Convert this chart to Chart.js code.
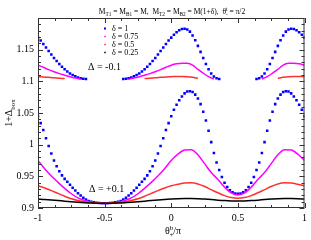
<!DOCTYPE html>
<html><head><meta charset="utf-8">
<script src="https://cdn.jsdelivr.net/npm/chart.js@4.4.1/dist/chart.umd.min.js"></script>
<style>html,body{margin:0;padding:0;background:#fff}canvas{display:block}</style>
</head><body>
<canvas id="c" width="311" height="240"></canvas>
<script>
// x grids
const xFine = [-1,-0.98,-0.96,-0.94,-0.92,-0.9,-0.88,-0.86,-0.84,-0.82,-0.8,-0.78,-0.76,-0.74,-0.72,-0.7,-0.68,-0.66,-0.64,-0.62,-0.6,-0.58,-0.56,-0.54,-0.52,-0.5,-0.48,-0.46,-0.44,-0.42,-0.4,-0.38,-0.36,-0.34,-0.32,-0.3,-0.28,-0.26,-0.24,-0.22,-0.2,-0.18,-0.16,-0.14,-0.12,-0.1,-0.08,-0.06,-0.04,-0.02,0,0.02,0.04,0.06,0.08,0.1,0.12,0.14,0.16,0.18,0.2,0.22,0.24,0.26,0.28,0.3,0.32,0.34,0.36,0.38,0.4,0.42,0.44,0.46,0.48,0.5,0.52,0.54,0.56,0.58,0.6,0.62,0.64,0.66,0.68,0.7,0.72,0.74,0.76,0.78,0.8,0.82,0.84,0.86,0.88,0.9,0.92,0.94,0.96,0.98,1];
const xMid = [-1,-0.96,-0.92,-0.88,-0.84,-0.8,-0.76,-0.72,-0.68,-0.64,-0.6,-0.56,-0.52,-0.48,-0.44,-0.4,-0.36,-0.32,-0.28,-0.24,-0.2,-0.16,-0.12,-0.08,-0.04,0,0.04,0.08,0.12,0.16,0.2,0.24,0.28,0.32,0.36,0.4,0.44,0.48,0.52,0.56,0.6,0.64,0.68,0.72,0.76,0.8,0.84,0.88,0.92,0.96,1];
const xCoarse = [-1,-0.95,-0.9,-0.85,-0.8,-0.75,-0.7,-0.65,-0.6,-0.55,-0.5,-0.45,-0.4,-0.35,-0.3,-0.25,-0.2,-0.15,-0.1,-0.05,0,0.05,0.1,0.15,0.2,0.25,0.3,0.35,0.4,0.45,0.5,0.55,0.6,0.65,0.7,0.75,0.8,0.85,0.9,0.95,1];

// Delta = +0.1 (lower family)
const blueLow = [1.045,1.034,1.023,1.010,0.998,0.986,0.975,0.966,0.958,0.9515,0.9460,0.9413,0.9367,0.9320,0.9275,0.9233,0.9196,0.9162,0.9133,0.9112,0.9098,0.9089,0.9082,0.9078,0.9076,0.9075,
 0.9076,0.9078,0.9082,0.9089,0.9098,0.9112,0.9133,0.9162,0.9196,0.9233,0.9275,0.9320,0.9367,0.9413,0.9460,0.9515,0.958,0.966,0.975,0.986,0.998,1.010,1.023,1.034,1.045,1.055,1.063,1.070,1.076,1.081,1.084,1.0845,1.083,1.079,1.073,1.064,1.052,1.038,1.022,1.004,0.987,0.972,0.960,0.949,0.940,0.933,0.928,0.925,0.923,0.9225,
 0.923,0.925,0.928,0.933,0.940,0.949,0.960,0.972,0.987,1.004,1.022,1.038,1.052,1.064,1.073,1.079,1.083,1.0845,1.084,1.081,1.076,1.070,1.063,1.055,1.045];
const magentaLow = [0.975,0.962,0.9505,0.9405,0.931,0.9225,0.916,0.9118,0.9092,0.9079,0.9075,
 0.9079,0.9092,0.9118,0.916,0.9225,0.931,0.9405,0.9505,0.962,0.975,0.985,0.9915,0.992,0.984,0.970,0.956,0.945,0.933,0.924,0.9205,
 0.924,0.933,0.945,0.956,0.970,0.984,0.992,0.9915,0.985,0.975];
const redLow = [0.935,0.9315,0.9275,0.923,0.9185,0.9145,0.912,0.910,0.9085,0.9077,0.9075,
 0.9077,0.9085,0.910,0.912,0.9145,0.9185,0.923,0.9275,0.9315,0.935,0.9375,0.9395,0.9398,0.938,0.934,0.929,0.924,0.9195,0.9165,0.9155,
 0.9165,0.9195,0.924,0.929,0.934,0.938,0.9398,0.9395,0.9375,0.935];
const blackLow = [0.9141,0.9135,0.9127,0.9118,0.9108,0.9099,0.9091,0.9084,0.9079,0.9076,0.9075,
 0.9076,0.9079,0.9084,0.9091,0.9099,0.9108,0.9118,0.9127,0.9135,0.9141,0.9146,0.9149,0.915,0.9148,0.9141,0.9133,0.9124,0.9117,0.9112,0.911,
 0.9112,0.9117,0.9124,0.9133,0.9141,0.9148,0.915,0.9149,0.9146,0.9141];

// Delta = -0.1 (upper family)
const blueUp = [1.169,1.1645,1.159,1.1535,1.148,1.1425,1.137,1.132,1.1275,1.123,1.119,1.1155,1.1125,1.110,1.1078,1.106,1.1048,1.1040,1.1037,
 null,null,null,null,null,null,null,null,null,null,null,null,null,
 1.1037,1.1040,1.1048,1.106,1.1078,1.110,1.1125,1.1155,1.119,1.123,1.1275,1.132,1.137,1.1425,1.148,1.1535,1.159,1.1645,1.169,1.1735,1.1775,1.1805,1.1825,1.183,1.182,1.1785,1.1725,1.165,1.156,1.1465,1.137,1.1275,1.119,1.1125,1.1075,1.1048,1.1037,
 null,null,null,null,null,null,null,null,null,null,null,null,null,
 1.1037,1.1048,1.1075,1.1125,1.119,1.1275,1.137,1.1465,1.156,1.165,1.1725,1.1785,1.182,1.183,1.1825,1.1805,1.1775,1.1735,1.169];
const magentaUp = [1.1255,1.1222,1.1185,1.1152,1.1122,1.1097,1.1073,1.1053,1.1037,
 null,null,null,null,null,null,null,null,
 1.1037,1.1053,1.1073,1.1097,1.1122,1.1152,1.1185,1.1222,1.1255,1.1276,1.1286,1.1284,1.1255,1.119,1.1128,1.1073,1.1037,
 null,null,null,null,null,null,null,null,
 1.1037,1.1073,1.1128,1.119,1.1255,1.1284,1.1286,1.1276,1.1255];
const redUp = [1.1073,1.1069,1.1063,1.1056,1.1049,1.1043,
 null,null,null,null,null,null,null,null,null,null,null,null,null,null,
 1.1043,1.1049,1.1056,1.1063,1.1069,1.1073,1.1077,1.1078,1.1074,1.1064,1.1048,
 null,null,null,null,null,null,null,null,null,null,null,null,null,null,
 1.1048,1.1064,1.1074,1.1078,1.1077,1.1073];

const xTicks = [-1,-0.5,0,0.5,1];
const xTickLabels = ['-1','-0.5','0','0.5','1'];
const yTicks = [0.9,0.95,1,1.05,1.1,1.15,1.2];
const yTickLabels = ['0.9','0.95','1','1.05','1.1','1.15',''];
const legendLabels = ['δ = 1','δ = 0.75','δ = 0.5','δ = 0.25'];
const legendColors = ['#0000ff','#ff00ff','#ff3030','#000000'];

const SERIF = '"Liberation Serif", "Times New Roman", serif';
const pts = (xs, ys) => xs.map((x,i)=>({x:x, y:ys[i]}));

function rich(ctx, segs, x, y, size, align){
  const spec = {0:[1,0], 1:[0.7,0.3], '-1':[0.7,-0.42]};
  let w = 0;
  for (const s of segs){ ctx.font = (size*spec[s[1]][0])+'px '+SERIF; if(!s[2]) w += ctx.measureText(s[0]).width; }
  let cx = align==='center' ? x - w/2 : x;
  ctx.textAlign='left'; ctx.textBaseline='alphabetic';
  for (const s of segs){
    const sp = spec[s[1]];
    ctx.font = (size*sp[0])+'px '+SERIF;
    ctx.fillText(s[0], cx, y + sp[1]*size);
    if(!s[2]) cx += ctx.measureText(s[0]).width;
  }
}

const deco = {
  id:'deco',
  afterDraw(chart){
    const {ctx, chartArea:{left,right,top,bottom}, scales:{x,y}} = chart;
    ctx.save();
    ctx.strokeStyle='#333'; ctx.lineWidth=1;
    ctx.strokeRect(left+0.5, top+0.5, right-left-1, bottom-top-1);
    ctx.beginPath();
    for (let v=-1; v<=1.0001; v+=0.125){
      const px = Math.round(x.getPixelForValue(v))+0.5;
      const major = Math.abs(v*2 - Math.round(v*2))<1e-6;
      const L = major?5:3;
      ctx.moveTo(px,bottom); ctx.lineTo(px,bottom-L);
      ctx.moveTo(px,top); ctx.lineTo(px,top+L);
    }
    for (let k=0; k<=30; k++){
      const v = 0.9 + k*0.01;
      const py = Math.round(y.getPixelForValue(v))+0.5;
      const L = (k%5===0)?5:3;
      ctx.moveTo(left,py); ctx.lineTo(left+L,py);
      ctx.moveTo(right,py); ctx.lineTo(right-L,py);
    }
    ctx.stroke();
    ctx.fillStyle='#000';
    // title
    rich(ctx, [['M',0],['T',1],['1',1],[' = M',0],['B',1],['1',1],[' = M,  M',0],['T',1],['2',1],[' = M',0],['B',1],['2',1],[' = M(1+δ),  θ',0],['-',1,true],['t',-1],[' = π/2',0]], 172, 14, 7.5, 'center');
    // axis titles
    rich(ctx, [['θ',0],['+',1,true],['b',-1],['/π',0]], 173, 234, 10, 'center');
    ctx.save(); ctx.translate(12, 113); ctx.rotate(-Math.PI/2);
    rich(ctx, [['1+Δ',0],['box',1]], 0, 0, 10, 'center');
    ctx.restore();
    // annotations
    rich(ctx, [['Δ = -0.1',0]], 88, 70, 10, 'left');
    rich(ctx, [['Δ = +0.1',0]], 89, 192, 10, 'left');
    // legend
    const rows=[28.5,36.5,44.5,52.5];
    for(let i=0;i<4;i++){
      ctx.fillStyle=legendColors[i];
      const s = i===0?2:1.5;
      ctx.fillRect(105-s/2, rows[i]-s/2, s, s);
      ctx.fillStyle='#000';
      ctx.font='8px '+SERIF; ctx.textBaseline='middle';
      ctx.fillText(legendLabels[i], 112, rows[i]);
    }
    ctx.restore();
  }
};

const lineDs = (label, xs, ys, color, order) => ({label, data: pts(xs,ys), borderColor: color, backgroundColor: color, borderWidth:1.5, pointRadius:0, showLine:true, spanGaps:false, cubicInterpolationMode:'monotone', order});
const dotDs = (label, xs, ys, order) => ({label, data: pts(xs,ys), borderColor:'#0000ff', backgroundColor:'#0000ff', pointStyle:'rect', pointRadius:1.8, borderWidth:0, showLine:false, order});

new Chart(document.getElementById('c'), {
  type:'scatter',
  data:{datasets:[
    lineDs('δ=0.25 low', xCoarse, blackLow, '#000000', 1),
    lineDs('δ=0.5 low', xCoarse, redLow, '#ff3030', 2),
    lineDs('δ=0.75 low', xCoarse, magentaLow, '#ff00ff', 3),
    dotDs('δ=1 low', xFine, blueLow, 4),
    lineDs('δ=0.5 up', xMid, redUp, '#ff3030', 5),
    lineDs('δ=0.75 up', xMid, magentaUp, '#ff00ff', 6),
    dotDs('δ=1 up', xFine, blueUp, 7)
  ]},
  options:{
    responsive:false, animation:false, devicePixelRatio:1,
    layout:{padding:{top:18,right:4,left:0,bottom:0}},
    plugins:{legend:{display:false}, tooltip:{enabled:false}},
    scales:{
      x:{type:'linear', min:-1, max:1,
        afterBuildTicks(s){ s.ticks = xTicks.map(v=>({value:v})); },
        afterFit(s){ s.height = 32; },
        grid:{display:false, drawTicks:false}, border:{display:false},
        ticks:{padding:4, color:'#000', font:{family:SERIF, size:10}, maxRotation:0, autoSkip:false,
          callback:(v)=>{ const i = xTicks.findIndex(t=>Math.abs(t-v)<1e-9); return i>=0?xTickLabels[i]:''; }}},
      y:{type:'linear', min:0.9, max:1.2,
        afterBuildTicks(s){ s.ticks = yTicks.map(v=>({value:v})); },
        afterFit(s){ s.width = 38; },
        grid:{display:false, drawTicks:false}, border:{display:false},
        ticks:{padding:4, color:'#000', font:{family:SERIF, size:10}, autoSkip:false,
          callback:(v)=>{ const i = yTicks.findIndex(t=>Math.abs(t-v)<1e-9); return i>=0?yTickLabels[i]:''; }}}
    }
  },
  plugins:[deco]
});
</script>
</body></html>
